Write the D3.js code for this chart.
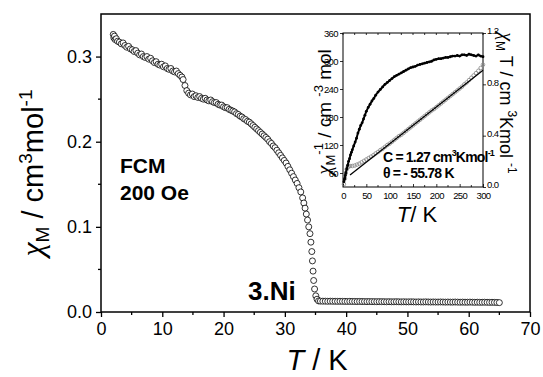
<!DOCTYPE html>
<html>
<head>
<meta charset="utf-8">
<script src="https://d3js.org/d3.v7.min.js"></script>
<style>
body{margin:0;background:#fff;}
svg{font-family:"Liberation Sans",Arial,sans-serif;}
.chi{font-family:"Liberation Serif","Times New Roman",serif;font-style:italic;}
</style>
</head>
<body>
<svg width="543" height="377"></svg>
<script>
// main plot: chi_M vs T (FCM, 200 Oe), pairs [T, chi]
const chiLow = [[2.0,0.326],[2.1,0.322],[2.2,0.324],[2.3,0.320],[2.5,0.321],[2.7,0.318],[3.0,0.317],[3.3,0.315],[3.6,0.316],[3.9,0.313],[4.2,0.311],[4.5,0.312],[4.8,0.309],[5.1,0.308],[5.4,0.306],[5.7,0.307],[6.0,0.304],[6.3,0.302],[6.6,0.303],[6.9,0.300],[7.2,0.299],[7.5,0.300],[7.8,0.297],[8.1,0.298],[8.4,0.295],[8.7,0.293],[9.0,0.294],[9.3,0.291],[9.6,0.290],[9.9,0.291],[10.2,0.288],[10.5,0.289],[10.8,0.286],[11.1,0.285],[11.4,0.286],[11.7,0.283],[12.0,0.282],[12.3,0.283],[12.6,0.280],[12.9,0.278],[13.2,0.276]];
const chiMid = [[13.4,0.273],[13.7,0.266],[14.0,0.260],[14.3,0.257],[14.6,0.255],[14.9,0.256],[15.2,0.253],[15.5,0.254],[15.8,0.252],[16.1,0.253],[16.4,0.251],[16.7,0.250],[17.0,0.251],[17.3,0.249],[17.6,0.248],[17.9,0.249],[18.2,0.247],[18.5,0.246],[18.8,0.246],[19.1,0.244],[19.4,0.243],[19.7,0.243],[20.0,0.241],[20.3,0.240],[20.6,0.240],[20.9,0.238],[21.2,0.237],[21.5,0.236],[21.8,0.235],[22.1,0.233],[22.4,0.232],[22.7,0.230],[23.0,0.229],[23.3,0.227],[23.6,0.226],[23.9,0.224],[24.2,0.223],[24.5,0.221],[24.8,0.219],[25.1,0.217],[25.4,0.215],[25.7,0.213],[26.0,0.211],[26.3,0.209],[26.6,0.207],[26.9,0.205],[27.2,0.203],[27.5,0.200],[27.8,0.198],[28.1,0.195],[28.4,0.193],[28.7,0.190],[29.0,0.187],[29.3,0.184],[29.6,0.181],[29.9,0.178],[30.2,0.175],[30.5,0.171],[30.8,0.167],[31.1,0.163],[31.4,0.159]];
const chiDrop = [[31.7,0.155],[32.0,0.151],[32.3,0.146],[32.6,0.141],[32.9,0.134],[33.1,0.128],[33.3,0.122],[33.5,0.115],[33.7,0.108],[33.9,0.100],[34.1,0.092],[34.25,0.082],[34.4,0.071],[34.5,0.060],[34.6,0.048],[34.7,0.037],[34.85,0.027],[35.05,0.019],[35.25,0.015],[35.5,0.013]];
const chiHigh = [[35.8,0.0128],[36.2,0.0127],[36.6,0.0127],[37.0,0.0126],[37.4,0.0127],[37.8,0.0126],[38.2,0.0126],[38.6,0.0125],[39.0,0.0126],[39.4,0.0125],[39.8,0.0125],[40.2,0.0124],[40.6,0.0125],[41.0,0.0124],[41.4,0.0124],[41.8,0.0123],[42.2,0.0124],[42.6,0.0123],[43.0,0.0123],[43.4,0.0122],[43.8,0.0123],[44.2,0.0122],[44.6,0.0122],[45.0,0.0121],[45.4,0.0122],[45.8,0.0121],[46.2,0.0121],[46.6,0.0120],[47.0,0.0121],[47.4,0.0120],[47.8,0.0120],[48.2,0.0121],[48.6,0.0120],[49.0,0.0119],[49.4,0.0120],[49.8,0.0119],[50.2,0.0119],[50.6,0.0120],[51.0,0.0119],[51.4,0.0118],[51.8,0.0119],[52.2,0.0118],[52.6,0.0118],[53.0,0.0119],[53.4,0.0118],[53.8,0.0117],[54.2,0.0118],[54.6,0.0117],[55.0,0.0117],[55.4,0.0118],[55.8,0.0117],[56.2,0.0116],[56.6,0.0117],[57.0,0.0116],[57.4,0.0116],[57.8,0.0117],[58.2,0.0116],[58.6,0.0115],[59.0,0.0116],[59.4,0.0115],[59.8,0.0115],[60.2,0.0116],[60.6,0.0115],[61.0,0.0114],[61.4,0.0115],[61.8,0.0114],[62.2,0.0114],[62.6,0.0115],[63.0,0.0114],[63.4,0.0113],[63.8,0.0114],[64.2,0.0113],[64.6,0.0112],[65.0,0.0110]];
const xTicks = [0,10,20,30,40,50,60,70];
const xMinor = [5,15,25,35,45,55,65];
const yTicks = [0.0,0.1,0.2,0.3];
const yMinor = [0.05,0.15,0.25];

// inset: chi_M^-1 (left axis) and chi_M T (right axis) vs T
const invChi = [[2,36],[4,48],[6,60],[8,68],[10,72],[12,74],[15,75],[20,75],[25,76],[30,78],[35,80],[40,83],[45,86],[50,89],[55,92],[60,95],[65,98],[70,102],[75,105],[80,109],[85,112],[90,116],[95,120],[100,123],[105,127],[110,131],[115,135],[120,139],[125,142],[130,146],[135,150],[140,154],[145,158],[150,162],[155,166],[160,170],[165,174],[170,178],[175,182],[180,186],[185,190],[190,194],[195,197],[200,201],[205,205],[210,209],[215,213],[220,217],[225,221],[230,225],[235,229],[240,233],[245,237],[250,241],[255,245],[260,250],[265,254],[270,259],[275,264],[280,269],[285,274],[290,279],[295,285],[300,292]];
const fitLine = [[15,55.7],[300,280.2]];
const chiT = [[2,0.04],[3,0.06],[4,0.07],[5,0.09],[6,0.11],[8,0.14],[10,0.17],[12,0.20],[14,0.22],[16,0.25],[18,0.27],[20,0.29],[23,0.32],[26,0.35],[29,0.38],[32,0.42],[35,0.45],[38,0.48],[41,0.50],[44,0.53],[47,0.56],[50,0.59],[54,0.62],[58,0.645],[62,0.67],[66,0.69],[70,0.715],[75,0.74],[80,0.76],[85,0.78],[90,0.80],[95,0.815],[100,0.83],[105,0.845],[110,0.86],[115,0.87],[120,0.88],[125,0.89],[130,0.90],[135,0.91],[140,0.92],[145,0.93],[150,0.935],[155,0.94],[160,0.95],[165,0.955],[170,0.96],[175,0.965],[180,0.97],[185,0.975],[190,0.98],[195,0.99],[200,0.995],[205,1.0],[210,1.0],[215,1.005],[220,1.01],[225,1.01],[230,1.015],[235,1.02],[240,1.02],[245,1.025],[250,1.02],[255,1.03],[260,1.03],[265,1.025],[270,1.035],[275,1.03],[280,1.025],[285,1.02],[290,1.03],[295,1.02],[300,1.015]];
const ixTicks = [0,50,100,150,200,250,300];
const ixMinor = [25,75,125,175,225,275];
const iyLTicks = [60,120,180,240,300,360];
const iyRTicks = [0,0.4,0.8,1.2];

const svg = d3.select("svg");

// ---- main plot
const x = d3.scaleLinear().domain([0,70]).range([101,530]);
const y = d3.scaleLinear().domain([0,0.35]).range([312,14]);

const gx = svg.append("g").attr("transform","translate(0,312)")
  .call(d3.axisBottom(x).tickValues(xTicks).tickSize(5).tickPadding(5).tickSizeOuter(0));
const gy = svg.append("g").attr("transform","translate(101,0)")
  .call(d3.axisLeft(y).tickValues(yTicks).tickFormat(d3.format(".1f")).tickSize(5).tickPadding(4).tickSizeOuter(0));
[gx,gy].forEach(g=>{
  g.attr("font-family",null).attr("font-size",18);
  g.select(".domain").remove();
  g.selectAll("line").attr("stroke-width",1.3);
  g.selectAll("text").attr("fill","#000");
});
svg.append("g").selectAll("line").data(xMinor).join("line")
  .attr("x1",d=>x(d)).attr("x2",d=>x(d)).attr("y1",312).attr("y2",315)
  .attr("stroke","#000").attr("stroke-width",1.3);
svg.append("g").selectAll("line").data(yMinor).join("line")
  .attr("x1",98).attr("x2",101).attr("y1",d=>y(d)).attr("y2",d=>y(d))
  .attr("stroke","#000").attr("stroke-width",1.3);

svg.append("rect").attr("x",101).attr("y",14).attr("width",429).attr("height",298)
  .attr("fill","none").attr("stroke","#000").attr("stroke-width",1.5);

const mainPts = chiLow.concat(chiMid, chiDrop, chiHigh);
svg.append("g").selectAll("circle").data(mainPts).join("circle")
  .attr("cx",d=>x(d[0])).attr("cy",d=>y(d[1])).attr("r",3)
  .attr("fill","#fff").attr("stroke","#000").attr("stroke-width",0.8);

// labels
const yl = svg.append("text").attr("transform","translate(43,173) rotate(-90)")
  .attr("text-anchor","middle").attr("font-size",29);
yl.append("tspan").attr("class","chi").attr("font-size",32).text("χ");
yl.append("tspan").attr("font-size",19).attr("dy",6).text("M");
yl.append("tspan").attr("dy",-6).text(" / cm");
yl.append("tspan").attr("font-size",19).attr("dy",-11).text("3");
yl.append("tspan").attr("dy",11).text("mol");
yl.append("tspan").attr("font-size",19).attr("dy",-11).text("-1");

const xl = svg.append("text").attr("x",317).attr("y",370).attr("text-anchor","middle").attr("font-size",29);
xl.append("tspan").attr("font-style","italic").text("T");
xl.append("tspan").text(" / K");

svg.append("text").attr("x",120).attr("y",173).attr("font-size",21).attr("font-weight","bold").text("FCM");
svg.append("text").attr("x",120).attr("y",200).attr("font-size",21).attr("font-weight","bold").text("200 Oe");
svg.append("text").attr("x",248).attr("y",300).attr("font-size",26).attr("font-weight","bold").text("3.Ni");

// ---- inset
const ix = d3.scaleLinear().domain([0,300]).range([343,483]);
const iyL = d3.scaleLinear().domain([30,360]).range([187,33]);
const iyR = d3.scaleLinear().domain([0,1.2]).range([187,33]);

const ib = svg.append("g").attr("transform","translate(0,187)")
  .call(d3.axisBottom(ix).tickValues(ixTicks).tickSize(-3).tickPadding(5).tickSizeOuter(0));
const il = svg.append("g").attr("transform","translate(343,0)")
  .call(d3.axisLeft(iyL).tickValues(iyLTicks).tickSize(3).tickPadding(2).tickSizeOuter(0));
const ir = svg.append("g").attr("transform","translate(483,0)")
  .call(d3.axisRight(iyR).tickValues(iyRTicks).tickFormat(d3.format(".1f")).tickSize(3).tickPadding(1).tickSizeOuter(0));
[ib,il,ir].forEach(g=>{
  g.attr("font-family",null).attr("font-size",9.5).attr("letter-spacing","-0.6px");
  g.select(".domain").remove();
  g.selectAll("line").attr("stroke-width",0.8);
  g.selectAll("text").attr("fill","#000");
});
ir.selectAll("text").attr("dy","0.1em");
svg.append("g").selectAll("line").data(ixMinor).join("line")
  .attr("x1",d=>ix(d)).attr("x2",d=>ix(d)).attr("y1",187).attr("y2",185)
  .attr("stroke","#000").attr("stroke-width",0.8);
svg.append("g").selectAll("line").data(ixTicks.concat(ixMinor)).join("line")
  .attr("x1",d=>ix(d)).attr("x2",d=>ix(d)).attr("y1",33).attr("y2",35)
  .attr("stroke","#000").attr("stroke-width",0.8);
svg.append("rect").attr("x",343).attr("y",33).attr("width",140).attr("height",154)
  .attr("fill","none").attr("stroke","#000").attr("stroke-width",1);

svg.append("g").selectAll("circle").data(invChi).join("circle")
  .attr("cx",d=>ix(d[0])).attr("cy",d=>iyL(d[1])).attr("r",1.8)
  .attr("fill","none").attr("stroke","#888").attr("stroke-width",0.8);
svg.append("path").datum(fitLine)
  .attr("d",d3.line().x(d=>ix(d[0])).y(d=>iyL(d[1])))
  .attr("fill","none").attr("stroke","#000").attr("stroke-width",1.3);
svg.append("path").datum(chiT)
  .attr("d",d3.line().x(d=>ix(d[0])).y(d=>iyR(d[1])))
  .attr("fill","none").attr("stroke","#000").attr("stroke-width",2);
svg.append("g").selectAll("circle").data(chiT).join("circle")
  .attr("cx",d=>ix(d[0])).attr("cy",d=>iyR(d[1])).attr("r",1.4).attr("fill","#000");

// inset labels
const ll = svg.append("text").attr("transform","translate(331,112) rotate(-90)")
  .attr("text-anchor","middle").attr("font-size",19);
ll.append("tspan").attr("class","chi").attr("font-size",21).text("χ");
ll.append("tspan").attr("font-size",13).attr("dy",4).text("M");
ll.append("tspan").attr("font-size",13).attr("dy",-12).text("-1");
ll.append("tspan").attr("dy",8).text(" / cm ");
ll.append("tspan").attr("font-size",13).attr("dy",-8).text("-3");
ll.append("tspan").attr("dy",8).text(" mol");

const rl = svg.append("text").attr("transform","translate(500,103) rotate(90)")
  .attr("text-anchor","middle").attr("font-size",18);
rl.append("tspan").attr("class","chi").attr("font-size",20).text("χ");
rl.append("tspan").attr("font-size",12).attr("dy",4).text("M");
rl.append("tspan").attr("dy",-4).text(" T / cm ");
rl.append("tspan").attr("font-size",12).attr("dy",-8).text("3");
rl.append("tspan").attr("dy",8).text("Kmol ");
rl.append("tspan").attr("font-size",12).attr("dy",-8).text("-1");

const il2 = svg.append("text").attr("x",417).attr("y",222).attr("text-anchor","middle").attr("font-size",22);
il2.append("tspan").attr("font-style","italic").text("T");
il2.append("tspan").text("/ K");

const c1 = svg.append("text").attr("x",383).attr("y",162).attr("font-size",14)
  .attr("font-weight","bold").attr("letter-spacing","-0.8px");
c1.append("tspan").text("C = 1.27 cm");
c1.append("tspan").attr("font-size",9).attr("dy",-6).text("3");
c1.append("tspan").attr("dy",6).text("Kmol");
c1.append("tspan").attr("font-size",9).attr("dy",-6).text("-1");
svg.append("text").attr("x",383).attr("y",178).attr("font-size",14)
  .attr("font-weight","bold").attr("letter-spacing","-0.8px").text("θ = - 55.78 K");
</script>
</body>
</html>
